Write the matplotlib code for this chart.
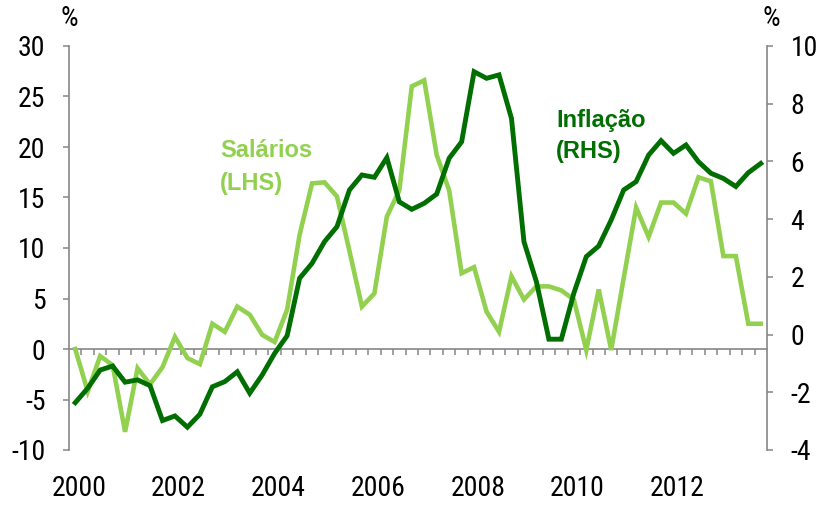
import numpy as np
import matplotlib
matplotlib.use("Agg")
import matplotlib.pyplot as plt
from matplotlib import font_manager as fm

_avail = set(f.name for f in fm.fontManager.ttflist)
_pref = ['Liberation Sans Narrow', 'Arial Narrow', 'Roboto Condensed',
         'Archivo Narrow', 'PT Sans Narrow', 'Open Sans Condensed',
         'Liberation Sans']
NARROW = next((n for n in _pref if n in _avail), 'DejaVu Sans')
plt.rcParams['font.family'] = [NARROW, 'Liberation Sans', 'DejaVu Sans']

# ---- data (quarterly, 2000Q1 - 2013Q4) ----
years = list(range(2000, 2014))
quarters = [f"{y}Q{q}" for y in years for q in range(1, 5)]

salarios = [0.0, -4.2, -0.7, -1.6, -8.2, -1.9, -3.5, -1.8,
            1.2, -0.9, -1.5, 2.5, 1.7, 4.2, 3.4, 1.4,
            0.7, 3.9, 11.3, 16.4, 16.5, 15.1, 9.7, 4.2,
            5.5, 13.1, 15.7, 26.0, 26.6, 19.2, 15.7, 7.5,
            8.1, 3.7, 1.7, 7.2, 4.9, 6.2, 6.2, 5.8,
            4.9, -0.1, 5.9, -0.1, 7.0, 14.0, 11.1, 14.5,
            14.5, 13.4, 17.0, 16.6, 9.2, 9.2, 2.5, 2.5]

inflacao = [-2.36, -1.86, -1.23, -1.09, -1.65, -1.57, -1.77, -2.98,
            -2.82, -3.21, -2.76, -1.81, -1.63, -1.29, -2.03, -1.40,
            -0.65, -0.04, 1.95, 2.47, 3.22, 3.74, 5.01, 5.53,
            5.45, 6.13, 4.60, 4.34, 4.55, 4.87, 6.11, 6.68,
            9.11, 8.88, 9.00, 7.49, 3.22, 1.83, -0.16, -0.16,
            1.43, 2.70, 3.07, 3.97, 5.01, 5.30, 6.22, 6.72,
            6.28, 6.57, 5.99, 5.59, 5.41, 5.13, 5.61, 5.93]

year_labels = ['2000', '2002', '2004', '2006', '2008', '2010', '2012']
left_ticks = [-10, -5, 0, 5, 10, 15, 20, 25, 30]
right_ticks = [-4, -2, 0, 2, 4, 6, 8, 10]

LIGHT = '#92D050'
DARK = '#006E00'
GRAY = '#868686'

fig = plt.figure(figsize=(8.25, 5.07), dpi=100)
ax = fig.add_axes([69 / 825, 57 / 507, (767 - 69) / 825, 404 / 507])
ax2 = ax.twinx()

x = np.arange(len(quarters))
ax.plot(x, salarios, color=LIGHT, lw=3.3, solid_joinstyle='miter', zorder=3)
ax2.plot(x, inflacao, color=DARK, lw=3.5, solid_joinstyle='miter', zorder=3)

ax.set_xlim(-0.5, len(quarters) - 0.5)
ax.set_ylim(-10, 30)
ax2.set_ylim(-4, 10)

# spines
for s in ['top', 'right']:
    ax.spines[s].set_visible(False)
for s in ['top', 'left', 'bottom']:
    ax2.spines[s].set_visible(False)
ax.spines['left'].set_color(GRAY)
ax.spines['left'].set_linewidth(1.2)
ax2.spines['right'].set_color(GRAY)
ax2.spines['right'].set_linewidth(1.2)
ax.spines['bottom'].set_position(('data', 0))
ax.spines['bottom'].set_color(GRAY)
ax.spines['bottom'].set_linewidth(1.2)

# x: quarter boundary ticks on the zero line
ax.set_xticks([])
ax.set_xticks(np.arange(0.5, len(quarters) - 1, 1), minor=True)
ax.tick_params(axis='x', which='minor', direction='out', length=4.5,
               width=1.1, color=GRAY)

# year labels at the bottom
label_pos = [quarters.index(f"{y}Q1") + 0.3 for y in year_labels]
sec = ax.secondary_xaxis('bottom')
sec.set_xticks(label_pos, year_labels)
sec.spines['bottom'].set_visible(False)
sec.tick_params(axis='x', length=0, pad=18, labelsize=20)

# y axes
ax.set_yticks(left_ticks, [str(v) for v in left_ticks])
ax.tick_params(axis='y', direction='out', length=4, width=1.1, color=GRAY,
               pad=13, labelsize=20)
ax2.set_yticks(right_ticks, [str(v) for v in right_ticks])
ax2.tick_params(axis='y', direction='out', length=4, width=1.1, color=GRAY,
                pad=13, labelsize=20)

# unit labels
ax.text(0.0, 1.069, '%', transform=ax.transAxes, ha='center', va='center',
        fontsize=20)
ax.text(1.006, 1.069, '%', transform=ax.transAxes, ha='center', va='center',
        fontsize=20)

# series labels
fig.text(220 / 825, 1 - 139 / 507, 'Salários\n(LHS)', color=LIGHT,
         fontsize=17, fontweight='bold', family=['Liberation Sans', 'DejaVu Sans'],
         ha='left', va='top', linespacing=1.55)
fig.text(556 / 825, 1 - 109 / 507, 'Inflação\n(RHS)', color=DARK,
         fontsize=17, fontweight='bold', family=['Liberation Sans', 'DejaVu Sans'],
         ha='left', va='top', linespacing=1.45)

fig.savefig('out.png', dpi=100)
